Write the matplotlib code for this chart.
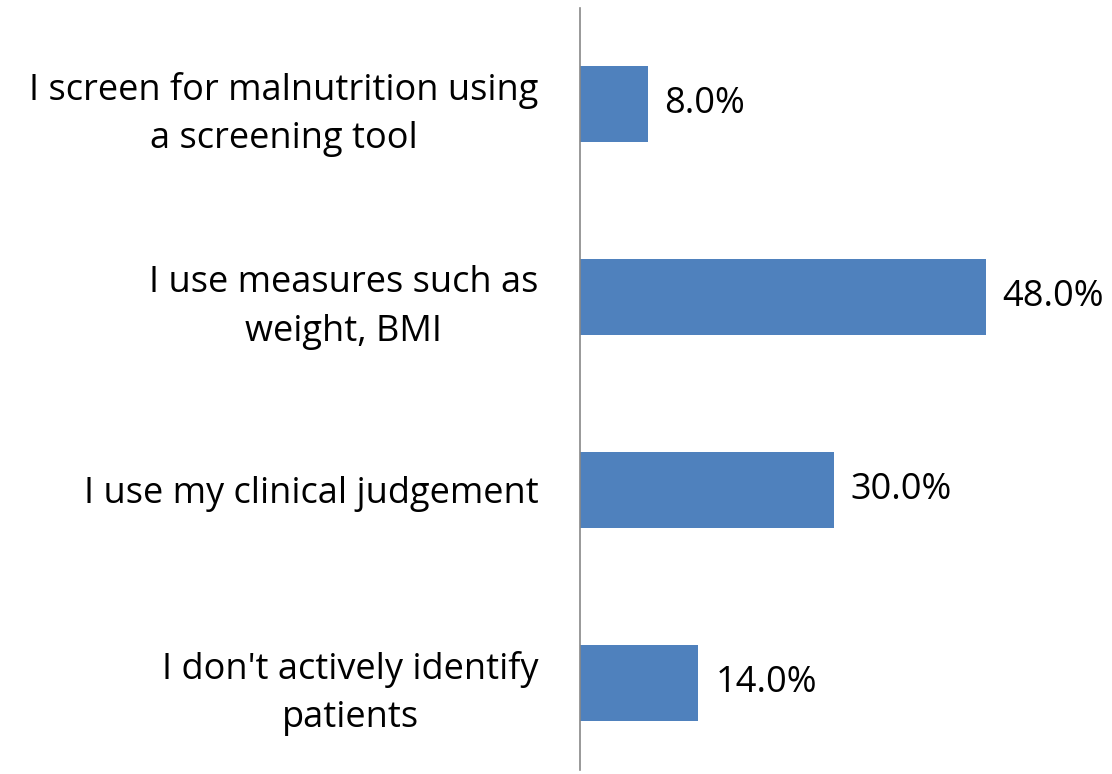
import matplotlib
matplotlib.use("Agg")
import matplotlib.pyplot as plt

categories = [
    "I screen for malnutrition using\na screening tool",
    "I use measures such as\nweight, BMI",
    "I use my clinical judgement",
    "I don't actively identify\npatients",
]
values = [8.0, 48.0, 30.0, 14.0]

plt.rcParams["font.family"] = ["Open Sans", "DejaVu Sans"]

fig = plt.figure(figsize=(11.12, 7.74), dpi=100)
ax = fig.add_axes([580 / 1112, 4 / 774, 530 / 1112, 762 / 774])

ypos = list(range(len(categories)))
ax.barh(ypos, values, height=0.394, color="#4f81bd")
ax.set_ylim(3.451, -0.497)
ax.set_xlim(0, 62.7)

for y, v in zip(ypos, values):
    ax.text(v + 2.0, y, f"{v:.1f}%", va="center", ha="left", fontsize=26)

ax.set_yticks(ypos)
ax.set_yticklabels(categories, fontsize=26, multialignment="center", linespacing=1.45)
ax.tick_params(axis="y", length=0, pad=30)
ax.set_xticks([])
for s in ["top", "right", "bottom"]:
    ax.spines[s].set_visible(False)
ax.spines["left"].set_color("#888888")
ax.spines["left"].set_linewidth(1.2)

fig.savefig("out.png", dpi=100)
